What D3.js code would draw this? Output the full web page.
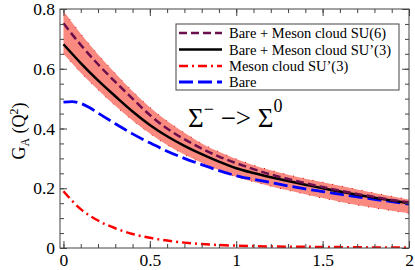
<!DOCTYPE html>
<html>
<head>
<meta charset="utf-8">
<script src="https://cdn.jsdelivr.net/npm/d3@7/dist/d3.min.js"></script>
<style>
body { margin: 0; background: #fff; }
svg { display: block; }
</style>
</head>
<body>
<div class="container"></div>
<script>

// Q^2 grid for the main curves and the band
var q = [0, 0.1, 0.2, 0.3, 0.4, 0.5, 0.6, 0.7, 0.8, 0.9, 1.0,
	1.1, 1.2, 1.3, 1.4, 1.5, 1.6, 1.7, 1.8, 1.9, 2.0];
var su6 = [0.752, 0.680, 0.615, 0.556, 0.500, 0.445, 0.400, 0.364, 0.333, 0.306, 0.284,
	0.264, 0.246, 0.231, 0.217, 0.204, 0.192, 0.181, 0.171, 0.161, 0.153];
var su3 = [0.682, 0.619, 0.561, 0.508, 0.457, 0.412, 0.374, 0.342, 0.314, 0.289, 0.267,
	0.251, 0.237, 0.224, 0.212, 0.200, 0.189, 0.178, 0.168, 0.159, 0.150];
var bandHi = [0.793, 0.717, 0.648, 0.585, 0.525, 0.471, 0.425, 0.386, 0.350, 0.322, 0.298,
	0.277, 0.260, 0.245, 0.232, 0.220, 0.208, 0.196, 0.184, 0.173, 0.162];
var bandLo = [0.650, 0.587, 0.530, 0.476, 0.427, 0.383, 0.345, 0.313, 0.285, 0.260, 0.238,
	0.222, 0.207, 0.193, 0.180, 0.167, 0.155, 0.144, 0.134, 0.125, 0.116];

var qBare = [0, 0.05, 0.1, 0.15, 0.2, 0.3, 0.4, 0.5, 0.6, 0.7, 0.8, 0.9, 1.0,
	1.1, 1.2, 1.3, 1.4, 1.5, 1.6, 1.7, 1.8, 1.9, 2.0];
var bare = [0.488, 0.490, 0.484, 0.470, 0.452, 0.416, 0.382, 0.352, 0.324, 0.300, 0.279, 0.259, 0.242,
	0.230, 0.219, 0.208, 0.198, 0.189, 0.180, 0.171, 0.163, 0.155, 0.147];

var qCloud = [0, 0.1, 0.2, 0.3, 0.4, 0.5, 0.6, 0.7, 0.8, 0.9, 1.0, 1.2, 1.4, 1.6, 1.8, 2.0];
var cloud = [0.190, 0.130, 0.092, 0.066, 0.047, 0.034, 0.025, 0.018, 0.013, 0.010, 0.008,
	0.005, 0.004, 0.003, 0.002, 0.002];

var xTicks = [0, 0.5, 1, 1.5, 2];
var yTicks = [0, 0.2, 0.4, 0.6, 0.8];
var xMinor = d3.range(0, 2.001, 0.1);
var yMinor = d3.range(0, 0.801, 0.05);

var legendNames = ["Bare + Meson cloud SU(6)", "Bare + Meson cloud SU\u2019(3)",
	"Meson cloud SU\u2019(3)", "Bare"];

var W = 415, H = 270;
var mLeft = 60, mRight = 409, mTop = 9, mBottom = 248;
var serif = "'Liberation Serif', 'Times New Roman', serif";

var svg = d3.select(".container").append("svg")
	.attr("width", W)
	.attr("height", H);

var x = d3.scaleLinear().domain([-0.02, 2]).range([mLeft, mRight]);
var y = d3.scaleLinear().domain([0, 0.8]).range([mBottom, mTop]);

svg.append("clipPath").attr("id", "clip")
	.append("rect")
	.attr("x", mLeft).attr("y", mTop)
	.attr("width", mRight - mLeft).attr("height", mBottom - mTop);

var plot = svg.append("g").attr("clip-path", "url(#clip)");

// error band
var band = d3.area()
	.x(function(d, i) { return x(q[i]); })
	.y0(function(d, i) { return y(bandLo[i]); })
	.y1(function(d, i) { return y(bandHi[i]); })
	.curve(d3.curveMonotoneX);

plot.append("path")
	.datum(q)
	.attr("d", band)
	.style("fill", "#fa8a80")
	.style("stroke", "none");

function lineOf(xs, ys) {
	return d3.line()
		.x(function(d, i) { return x(xs[i]); })
		.y(function(d, i) { return y(ys[i]); })
		.curve(d3.curveMonotoneX)(xs);
}

// dotted edges of the band
[bandHi, bandLo].forEach(function(b) {
	plot.append("path")
		.attr("d", lineOf(q, b))
		.style("fill", "none")
		.style("stroke", "#e00000")
		.style("stroke-width", 1)
		.style("stroke-dasharray", "1,9");
});

var styles = [
	{ color: "#6a0f4c", width: 2.5, dash: "8,4" },
	{ color: "#000", width: 2.5, dash: null },
	{ color: "#ff0000", width: 2.5, dash: "9,4,2,4" },
	{ color: "#0000ff", width: 2.8, dash: "14,5" }
];
var series = [[q, su6], [q, su3], [qCloud, cloud], [qBare, bare]];

// draw order: cloud, bare, su3, su6
[2, 3, 1, 0].forEach(function(k) {
	plot.append("path")
		.attr("d", lineOf(series[k][0], series[k][1]))
		.style("fill", "none")
		.style("stroke", styles[k].color)
		.style("stroke-width", styles[k].width)
		.style("stroke-dasharray", styles[k].dash);
});

// axes, ticks inside on all four sides
function axisStyle(g) {
	g.select(".domain").remove();
	g.selectAll(".tick line").style("stroke", "#444").style("stroke-width", 1);
	g.selectAll("text").style("font-size", "17.5px")
		.style("font-family", serif)
		.style("fill", "#000");
}

svg.append("g").attr("transform", "translate(0," + mBottom + ")")
	.call(d3.axisBottom(x).tickValues(xMinor).tickSize(-4).tickFormat(""))
	.call(axisStyle);
svg.append("g").attr("transform", "translate(0," + mBottom + ")")
	.call(d3.axisBottom(x).tickValues(xTicks).tickSize(-7).tickPadding(6)
		.tickFormat(d3.format("")))
	.call(axisStyle);
svg.append("g").attr("transform", "translate(0," + mTop + ")")
	.call(d3.axisTop(x).tickValues(xMinor).tickSize(-4).tickFormat(""))
	.call(axisStyle);
svg.append("g").attr("transform", "translate(0," + mTop + ")")
	.call(d3.axisTop(x).tickValues(xTicks).tickSize(-7).tickFormat(""))
	.call(axisStyle);

svg.append("g").attr("transform", "translate(" + mLeft + ",0)")
	.call(d3.axisLeft(y).tickValues(yMinor).tickSize(-4).tickFormat(""))
	.call(axisStyle);
svg.append("g").attr("transform", "translate(" + mLeft + ",0)")
	.call(d3.axisLeft(y).tickValues(yTicks).tickSize(-7).tickPadding(5)
		.tickFormat(d3.format("")))
	.call(axisStyle);
svg.append("g").attr("transform", "translate(" + mRight + ",0)")
	.call(d3.axisRight(y).tickValues(yMinor).tickSize(-4).tickFormat(""))
	.call(axisStyle);
svg.append("g").attr("transform", "translate(" + mRight + ",0)")
	.call(d3.axisRight(y).tickValues(yTicks).tickSize(-7).tickFormat(""))
	.call(axisStyle);

svg.append("rect")
	.attr("x", mLeft).attr("y", mTop)
	.attr("width", mRight - mLeft).attr("height", mBottom - mTop)
	.style("fill", "none")
	.style("stroke", "#444")
	.style("stroke-width", 1);

// y axis title
var yt = svg.append("text")
	.attr("transform", "translate(25,131) rotate(-90)")
	.attr("text-anchor", "middle")
	.style("font-family", serif)
	.style("font-size", "18px");
yt.append("tspan").text("G");
yt.append("tspan").attr("dy", 4).style("font-size", "12px").text("A");
yt.append("tspan").attr("dy", -4).text(" (Q");
yt.append("tspan").attr("dy", -7).style("font-size", "12px").text("2");
yt.append("tspan").attr("dy", 7).text(")");

// legend
var lg = svg.append("g");
lg.append("rect")
	.attr("x", 176).attr("y", 24)
	.attr("width", 223).attr("height", 66)
	.style("fill", "#fff")
	.style("stroke", "#444")
	.style("stroke-width", 1);

var rowY = [33, 49.5, 66, 82];
legendNames.forEach(function(name, k) {
	lg.append("line")
		.attr("x1", 179).attr("x2", 222)
		.attr("y1", rowY[k]).attr("y2", rowY[k])
		.style("stroke", styles[k].color)
		.style("stroke-width", styles[k].width)
		.style("stroke-dasharray", styles[k].dash);
	lg.append("text")
		.attr("x", 229).attr("y", rowY[k] + 5)
		.style("font-family", serif)
		.style("font-size", "14.5px")
		.text(name);
});

// process label
var ann = svg.append("text")
	.attr("x", 188).attr("y", 127)
	.style("font-family", serif)
	.style("font-size", "27px");
ann.append("tspan").text("\u03a3");
ann.append("tspan").attr("dy", -12).style("font-size", "18px").text("\u2212");
ann.append("tspan").attr("dy", 12).text(" \u2212> \u03a3");
ann.append("tspan").attr("dy", -15).style("font-size", "18px").text("0");

</script>
</body>
</html>
